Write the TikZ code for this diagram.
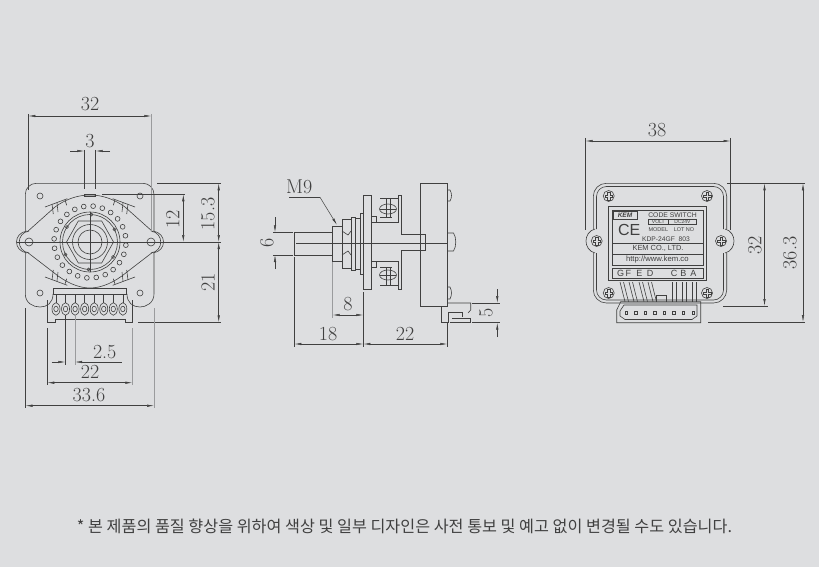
\documentclass[tikz,border=0pt]{standalone}
\usepackage{fontspec}
\usetikzlibrary{arrows.meta}
\newfontfamily\krfont{Noto Sans CJK KR}
\newfontfamily\labelfont{Liberation Sans}
\definecolor{paper}{HTML}{DDDEE0}
\definecolor{ink}{HTML}{404040}
\definecolor{ghost}{HTML}{9A9B9D}
\tikzset{
  part/.style={draw=ink,line width=.6pt},
  extline/.style={draw=ink,line width=.5pt},
  extgrey/.style={draw=ghost,line width=1pt},
  dimline/.style={draw=ink,line width=.5pt,<->},
  tipline/.style={draw=ink,line width=.5pt,->},
  dimtext/.style={text=ink,font=\fontsize{20}{20}\selectfont,inner sep=0pt},
  tagtext/.style={text=ink,font=\labelfont\fontsize{6.7}{7}\selectfont,inner sep=0pt},
  >={Latex[length=7pt,width=2.4pt]},
  pics/crosshead/.style={code={
    \draw[part] (0,0) circle (5.5);
    \draw[part] (-3.8,-1.1) -- (-1.1,-1.1) -- (-1.1,-3.8) -- (1.1,-3.8) -- (1.1,-1.1) -- (3.8,-1.1) -- (3.8,1.1) -- (1.1,1.1) -- (1.1,3.8) -- (-1.1,3.8) -- (-1.1,1.1) -- (-3.8,1.1) -- cycle;
  }}
}
\begin{document}
\begin{tikzpicture}[x=1pt,y=-1pt]
  \fill[paper] (0,0) rectangle (819,567);
  \useasboundingbox (0,0) rectangle (819,567);

  % front view
  \draw[part,rounded corners=11] (25.3,231) -- (25.3,183.3) -- (154,183.3) -- (154,231);
  \draw[part] (25.3,253) -- (25.3,294) .. controls (25.3,303) and (33,307) .. (40,307) .. controls (47,307) and (53,303) .. (53,294);
  \draw[part] (154,253) -- (154,294) .. controls (154,303) and (146,307) .. (140,307) .. controls (133,307) and (127,303) .. (127,294);
  \foreach \holex/\holey in {40/196,140/196,40/293,140/293}
    \draw[part] (\holex,\holey) circle (3);
  \draw[part] (27,232) -- (55,207) .. controls (66,199) and (78,195) .. (90,195) .. controls (102,195) and (114,199) .. (125,207) -- (153,232);
  \draw[part] (27,252) -- (53,272) .. controls (65,282) and (78,288) .. (90,288) .. controls (102,288) and (115,282) .. (127,272) -- (153,252);
  \draw[part] (27,231) .. controls (13,233) and (13,251) .. (27,253);
  \draw[part] (153,231) .. controls (167,233) and (167,251) .. (153,253);
  \draw[part] (29,231) .. controls (16,233) and (16,251) .. (29,253);
  \draw[part] (151,231) .. controls (164,233) and (164,251) .. (151,253);
  \draw[part] (29,242) circle (4);
  \draw[part] (151,242) circle (4);
  \draw[part] (84.3,194) rectangle (95.7,196);
  \foreach \sx in {1,-1} {
    \foreach \sy in {1,-1} {
      \begin{scope}[shift={(90,242)},xscale=\sx,yscale=\sy]
        \draw[part] (-45,-35) -- (-22.7,-43.3);
        \draw[part] (-38,-38) -- (-36.7,-28);
        \draw[part] (-33,-39) -- (-32,-30);
        \draw[part] (-25,-42) -- (-23.3,-36.7);
      \end{scope}
    }
  }
  \foreach \a in {0,15,...,345}
    \draw[part] (90,242) ++(\a+5:36) circle (2.4);
  \foreach \ringr in {30,27.5,17.5,12}
    \draw[part] (90,242) circle (\ringr);
  \draw[part] (113.5,242) -- (101.7,221) -- (78.3,221) -- (66.5,242) -- (78.3,263) -- (101.7,263) -- cycle;
  \foreach \a in {-87,-27,33,93,153,213}
    \draw[part] (90,242) ++(\a:27.5) circle (1.5);
  \draw[extline] (17,242) -- (221,242);
  \draw[extline] (90,212) -- (90,272);
  % terminals
  \draw[part] (53.3,288.5) rectangle (126.7,294);
  \foreach \i in {0,...,7} {
    \draw[part] (56+9.55*\i,294) -- (56+9.55*\i,303);
    \draw[part] (56+9.55*\i,309) ellipse (4 and 6.3);
    \draw[part] (56+9.55*\i,309) ellipse (2.2 and 2.8);
  }
  \draw[part] (47.3,300) -- (47.3,322.3) -- (55.7,322.3) -- (55.7,319.5) -- (125,319.5) -- (125,322.3) -- (132.3,322.3) -- (132.3,300);

  % front view dimensions
  \draw[extline] (28.3,114) -- (28.3,190);
  \draw[extgrey] (151.3,114) -- (151.3,232);
  \draw[dimline] (28.3,116) -- (151.3,116);
  \node[dimtext] (dimwidth) at (90,104.5) {32};
  \draw[extline] (84.3,150) -- (84.3,189);
  \draw[extline] (95.7,150) -- (95.7,189);
  \draw[tipline] (70,151) -- (84.3,151);
  \draw[tipline] (110,151) -- (95.7,151);
  \node[dimtext] (dimshaft) at (90,141) {3};
  \draw[extline] (157,183.3) -- (221,183.3);
  \draw[extline] (102,194.3) -- (185,194.3);
  \draw[extline] (138,322.3) -- (221,322.3);
  \draw[dimline] (218.7,183.3) -- (218.7,242);
  \draw[dimline] (183.3,194.3) -- (183.3,242);
  \draw[dimline] (218.7,242) -- (218.7,322.3);
  \node[dimtext,rotate=90] (dimupper) at (208,214) {15.3};
  \node[dimtext,rotate=90] (dimhole) at (172.7,219) {12};
  \node[dimtext,rotate=90] (dimlower) at (208,282) {21};
  \draw[extline] (65.3,315) -- (65.3,365);
  \draw[extgrey] (75,315) -- (75,365);
  \draw[tipline] (51.7,362) -- (65.3,362);
  \draw[<-,draw=ink,line width=.5pt] (75,362) -- (121.7,362);
  \node[dimtext] (dimpitch) at (104.7,351.7) {2.5};
  \draw[extline] (47.3,328) -- (47.3,385);
  \draw[extgrey] (132.3,328) -- (132.3,385);
  \draw[dimline] (47.3,382.7) -- (132.3,382.7);
  \node[dimtext] (dimpins) at (90,371.7) {22};
  \draw[extline] (25.5,308) -- (25.5,408);
  \draw[extgrey] (154,308) -- (154,408);
  \draw[dimline] (25.5,405.7) -- (154,405.7);
  \node[dimtext] (dimbase) at (89,394.7) {33.6};

  % side view
  \draw[part] (294.3,232.3) -- (332.7,232.3);
  \draw[part] (294.3,255) -- (332.7,255);
  \draw[part] (294.3,232.3) -- (294.3,255);
  \draw[extline] (296,243) -- (447,243);
  \draw[part] (332.7,226) rectangle (342,261.7);
  \draw[part] (342,219) rectangle (351,268);
  \draw[part] (342,231) -- (348,235) -- (351,231);
  \draw[part] (342,255) -- (348,251) -- (351,255);
  \draw[part] (351,217) rectangle (355,270);
  \draw[part] (355,218) rectangle (360.7,269);
  \draw[part] (360.7,213.5) rectangle (363.3,274);
  \draw[part] (363.3,195) rectangle (371,289);
  \foreach \sy in {1,-1} {
    \begin{scope}[shift={(0,242)},yscale=\sy]
      \draw[part] (371,-25.3) -- (376.7,-25.3) -- (376.7,-19.3) -- (398.3,-19.3);
      \draw[part] (371,-19.3) -- (376.7,-19.3);
      \draw[part] (380,-43.5) -- (398.3,-43.5);
      \draw[part] (398.3,-47) -- (398.3,-19.3);
      \draw[part] (398.3,-47) -- (401.7,-47) -- (401.7,-8) -- (425,-8) -- (425,0);
      \draw[part] (388,-33) ellipse (8.5 and 5);
      \draw[part] (380,-33) -- (396,-33);
      \draw[part] (386,-43.5) -- (386,-25);
      \draw[part] (390,-43.5) -- (390,-25);
      \draw[part] (380,-25) -- (392,-25);
    \end{scope}
  }
  \draw[part] (420,183.3) rectangle (447.3,306.7);
  \draw[part] (447.3,190) -- (450,190) .. controls (452,193) and (452,198) .. (450,201) -- (447.3,201);
  \draw[part] (447.3,233) -- (453.5,233) .. controls (456.5,237) and (456.5,247) .. (453.5,251) -- (447.3,251);
  \draw[part] (447.3,287) -- (450,287) .. controls (452,291) and (452,295) .. (450,299) -- (447.3,299);
  \draw[part] (441.7,306.7) -- (441.7,322) -- (448,322) -- (448,312) -- (462,312) -- (462,317);
  \draw[part] (447.3,303) -- (470.7,303) -- (470.7,310) -- (468,313);
  \draw[part] (450,322.7) -- (470.7,322.7) -- (470.7,318) -- (452,318);

  % side view dimensions
  \node[dimtext] (dimthread) at (299.3,187.3) {M9};
  \draw[extline] (289.3,197.3) -- (320,197.3);
  \draw[tipline] (320,197.3) -- (337,225);
  \draw[extline] (273,232.3) -- (293,232.3);
  \draw[extline] (273,255) -- (293,255);
  \draw[tipline] (275,217) -- (275,232.3);
  \draw[tipline] (275,269) -- (275,255);
  \node[dimtext,rotate=90] (dimbore) at (267,243) {6};
  \draw[extgrey] (332.7,262) -- (332.7,318);
  \draw[extline] (294.3,257) -- (294.3,347);
  \draw[extline] (363.3,292) -- (363.3,347);
  \draw[extline] (447.3,322) -- (447.3,347);
  \draw[dimline] (332.7,315) -- (363.3,315);
  \node[dimtext] (dimnut) at (348,304) {8};
  \draw[dimline] (294.3,344) -- (363.3,344);
  \node[dimtext] (dimfront) at (328,333.7) {18};
  \draw[dimline] (363.3,344) -- (447.3,344);
  \node[dimtext] (dimrear) at (405,333.7) {22};
  \draw[extline] (472,303) -- (500,303);
  \draw[extline] (472,322.7) -- (500,322.7);
  \draw[tipline] (497.3,289) -- (497.3,303);
  \draw[tipline] (497.3,337) -- (497.3,322.7);
  \node[dimtext,rotate=90] (dimtail) at (486,312.7) {5};

  % rear view
  \draw[part,rounded corners=13] (593.3,229) -- (593.3,183.3) -- (726.7,183.3) -- (726.7,229);
  \draw[part,rounded corners=10] (596.5,229) -- (596.5,186.5) -- (723.5,186.5) -- (723.5,229);
  \draw[part,rounded corners=13] (593.3,253) -- (593.3,303) -- (726.7,303) -- (726.7,253);
  \draw[part,rounded corners=10] (596.5,253) -- (596.5,300) -- (723.5,300) -- (723.5,253);
  \draw[part] (595,229) .. controls (583,232) and (583,250) .. (595,253);
  \draw[part] (725,229) .. controls (737,232) and (737,250) .. (725,253);
  \foreach \screwx/\screwy in {608.7/196,707/196,608.7/293,707/293,596.7/241,721/241}
    \pic at (\screwx,\screwy) {crosshead};
  \draw[part] (608.3,206.7) rectangle (706.7,280);
  \draw[part] (612.7,210) rectangle (703.3,265);
  \draw[part] (612.7,243.3) -- (703.3,243.3);
  \draw[part] (612.7,254.7) -- (703.3,254.7);
  \draw[part] (612.7,268.3) rectangle (703.3,278.3);
  \draw[part] (613,211) rectangle (637,219.5);
  \draw[part] (648.3,219) rectangle (668.3,224);
  \draw[part] (668.3,219) rectangle (696.7,224);
  \node[tagtext,font=\labelfont\bfseries\itshape\fontsize{6.5}{7}\selectfont] (taglogo) at (625,215.2) {KEM};
  \node[tagtext,font=\labelfont\fontsize{6.8}{7}\selectfont] (tagcode) at (672.5,215.2) {CODE SWITCH};
  \node[tagtext,font=\labelfont\fontsize{5}{5}\selectfont] (tagvolt) at (658.3,221.6) {VOLT};
  \node[tagtext,font=\labelfont\fontsize{5}{5}\selectfont] (tagdc) at (682.5,221.6) {DC24V};
  \node[tagtext,font=\labelfont\fontsize{16}{16}\selectfont] (tagce) at (629.3,229.5) {CE};
  \node[tagtext,font=\labelfont\fontsize{5.5}{6}\selectfont] (tagmodel) at (658.3,229.5) {MODEL};
  \node[tagtext,font=\labelfont\fontsize{5.5}{6}\selectfont] (taglot) at (684,229.5) {LOT NO};
  \node[tagtext] (tagkdp) at (666,239.3) {KDP-24GF\ \ 803};
  \node[tagtext,font=\labelfont\fontsize{7.4}{8}\selectfont] (tagkem) at (658,248.5) {KEM CO., LTD.};
  \node[tagtext,font=\labelfont\fontsize{7.7}{8}\selectfont] (tagurl) at (657.3,259.5) {http://www.kem.co};
  \foreach \wirelabel/\wirex in {G/620.7,F/628.3,E/639.3,D/650,C/674,B/683.3,A/693.3}
    \node[tagtext,font=\labelfont\fontsize{9}{9}\selectfont] (wire\wirelabel) at (\wirex,273.5) {\wirelabel};
  % wires
  \foreach \wirex in {620,629,639,648}
    \draw[part] (\wirex,282) -- (\wirex+5,301.7) (\wirex+3.5,282) -- (\wirex+8.5,301.7);
  \foreach \wirex in {672.5,682,692}
    \draw[part] (\wirex,282) -- (\wirex,301.7) (\wirex+4,282) -- (\wirex+4,301.7);
  \draw[part] (656,301.7) -- (656,295) -- (666,295) -- (666,301.7);
  % rear connector
  \draw[part] (620.7,301.7) -- (700.7,301.7) -- (700.7,322.7) -- (616.7,322.7) -- (616.7,310) -- cycle;
  \draw[part] (624,305) -- (697,305) -- (697,316) -- (692,319.5) -- (625,319.5) -- (620,316) -- (620,311) -- cycle;
  \foreach \i in {0,...,7}
    \draw[part] (625+9.55*\i,311.5) rectangle ++(2.4,2.4);

  % rear view dimensions
  \draw[extline] (585.5,138) -- (585.5,230);
  \draw[extline] (730.5,138) -- (730.5,230);
  \draw[dimline] (585.5,141) -- (730.5,141);
  \node[dimtext] (dimouter) at (657,130) {38};
  \draw[extline] (727,183.3) -- (805,183.3);
  \draw[extline] (723,306) -- (768,306);
  \draw[extline] (708,322) -- (805,322);
  \draw[dimline] (764.5,183.3) -- (764.5,306);
  \draw[dimline] (803,183.3) -- (803,322);
  \node[dimtext,rotate=90] (dimbody) at (755,245) {32};
  \node[dimtext,rotate=90] (dimtotal) at (790,253) {36.3};

  % note
  \node[text=ink,font=\krfont\fontsize{16.2}{16}\selectfont,inner sep=0pt] (note) at (404.5,526) {* 본 제품의 품질 향상을 위하여 색상 및 일부 디자인은 사전 통보 및 예고 없이 변경될 수도 있습니다.};
\end{tikzpicture}
\end{document}
